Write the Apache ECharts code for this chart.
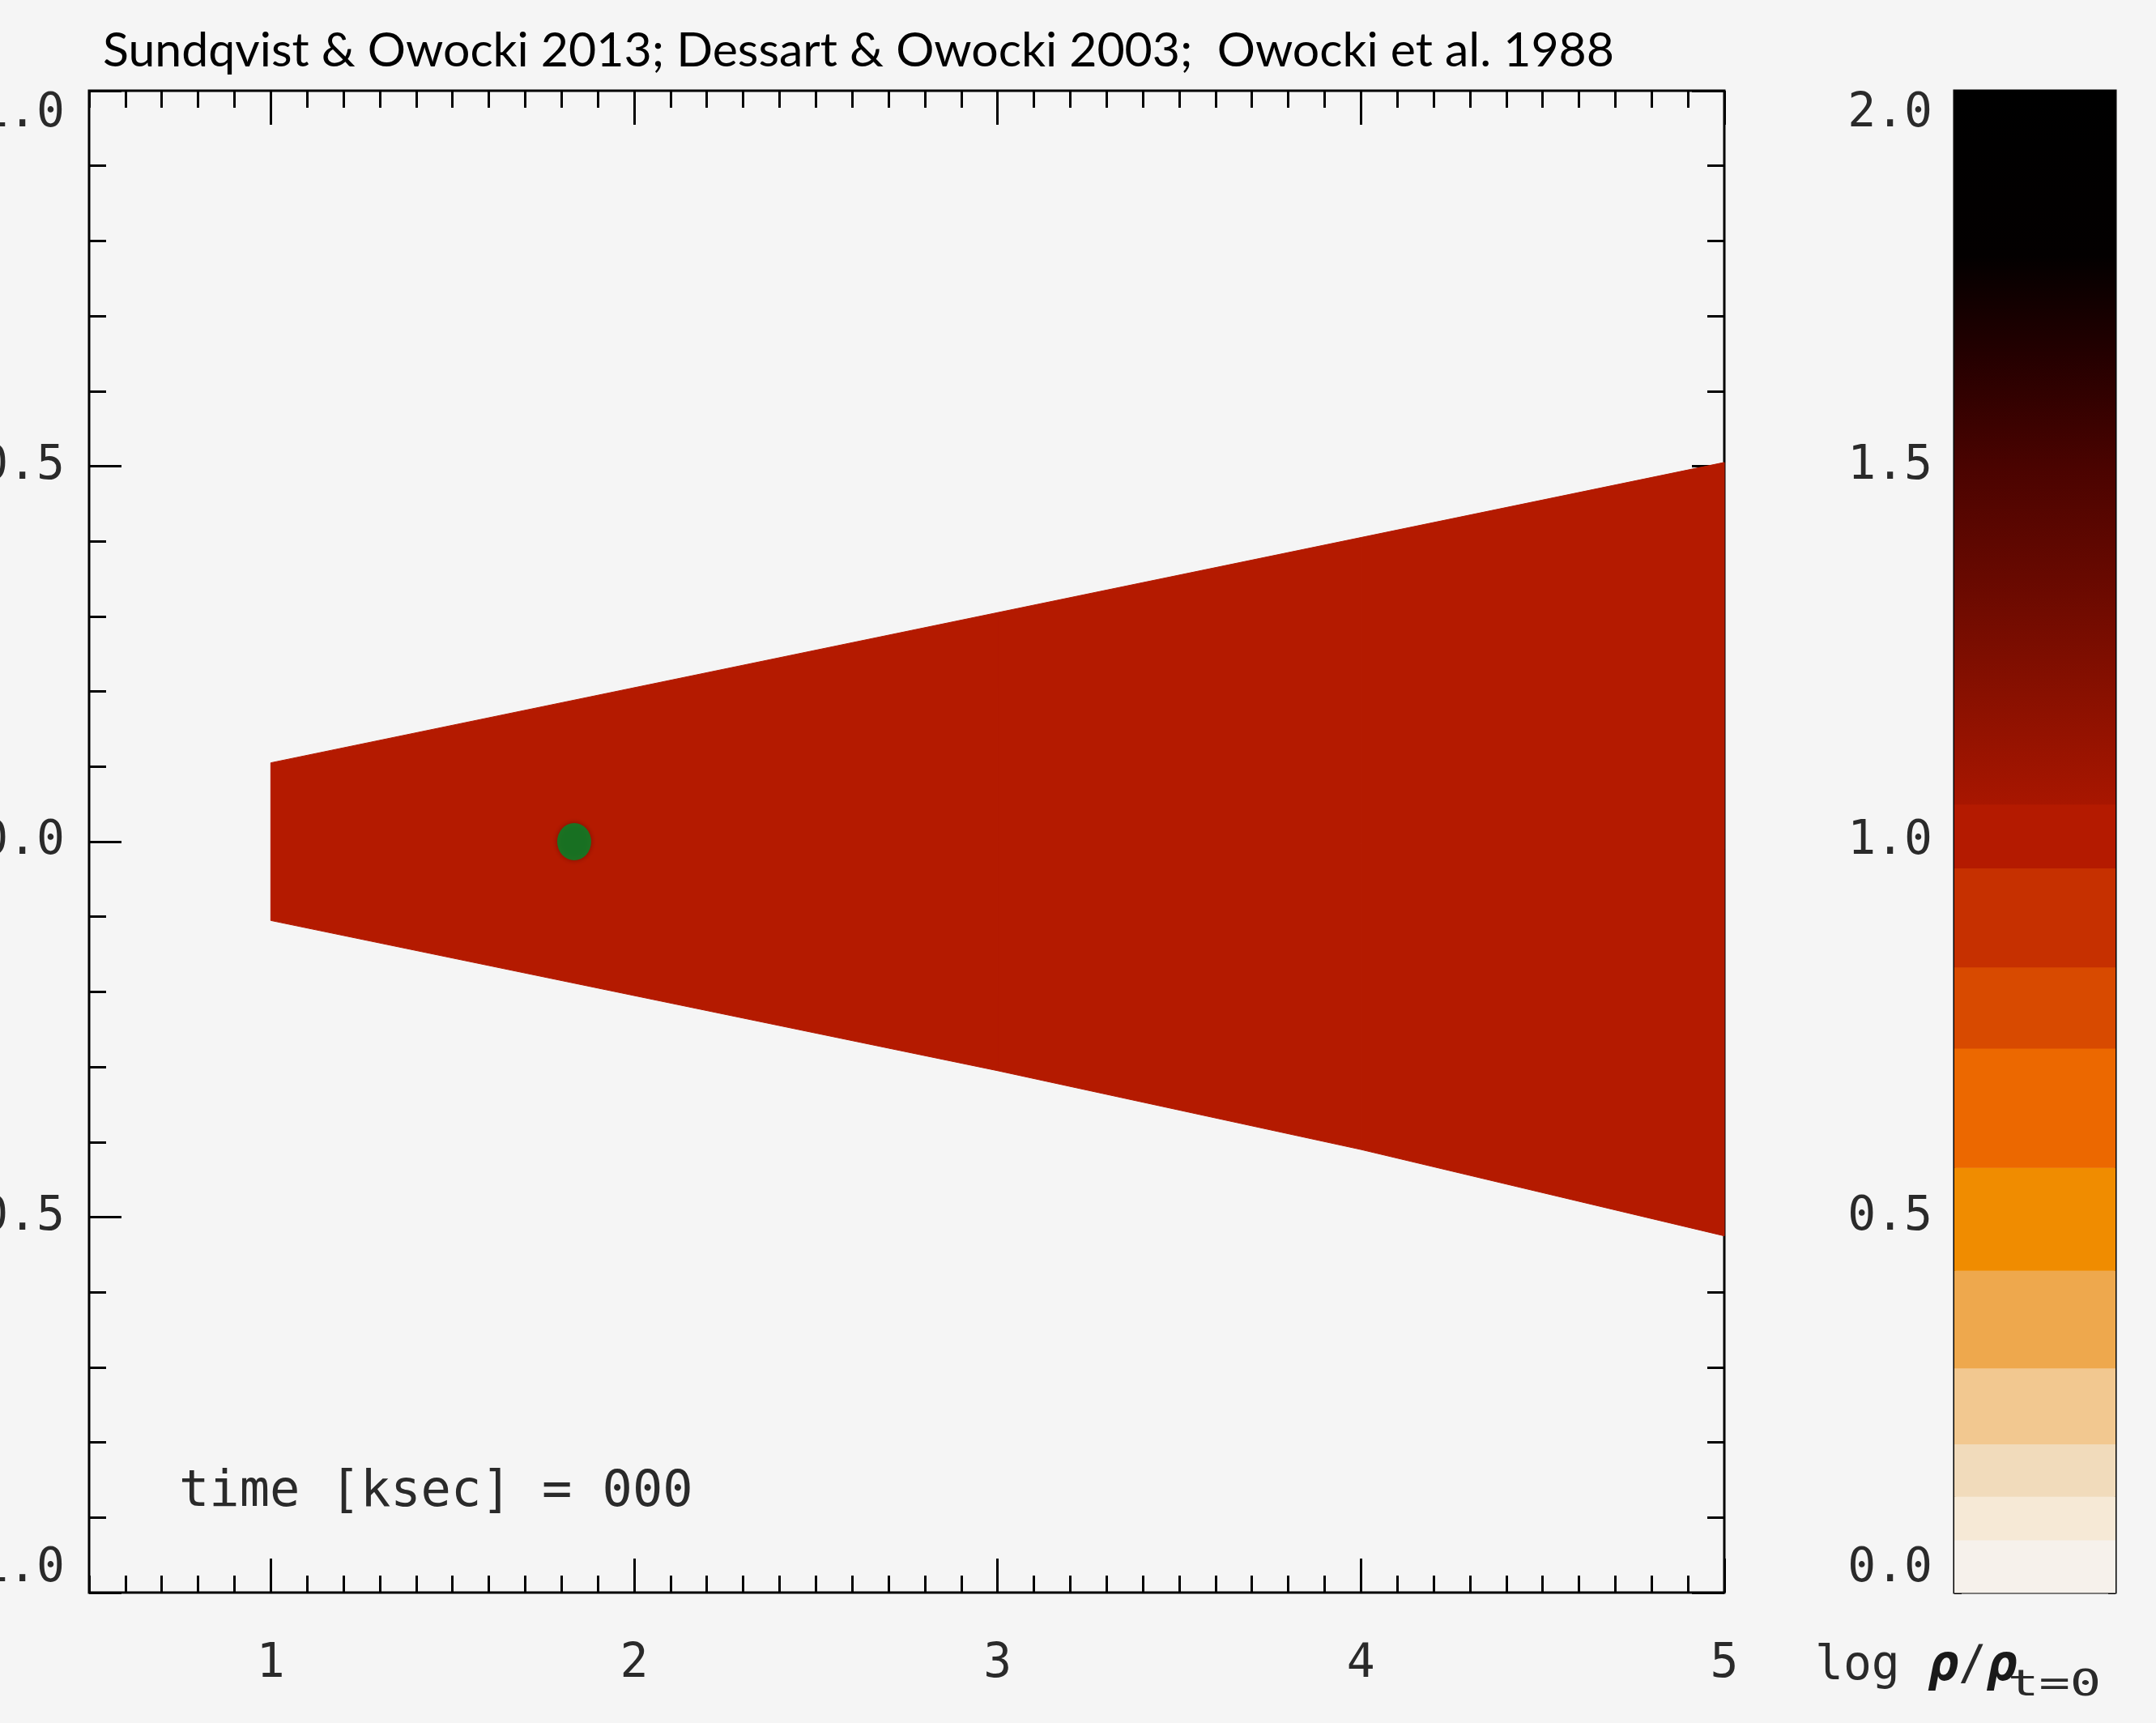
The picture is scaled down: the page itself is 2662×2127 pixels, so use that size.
<!DOCTYPE html>
<html><head><meta charset="utf-8">
<script src="https://cdn.jsdelivr.net/npm/echarts@6/dist/echarts.min.js"></script>
<style>html,body{margin:0;padding:0;background:#f5f5f5}#c{width:2662px;height:2127px}</style>
</head><body><div id="c"></div><script>
// ---- data ----
const titleText = 'Sundqvist & Owocki 2013; Dessart & Owocki 2003;  Owocki et al. 1988';
const timeLabel = 'time [ksec] = 000';
const xMajorTicks = [1, 2, 3, 4, 5];
const yMajorTicks = [-1, -0.5, 0, 0.5, 1];
const cbTickLabels = [0, 0.5, 1, 1.5, 2];
// boundary of the dense wedge (radius vs. upper/lower edge)
const radius = [1, 2, 3, 4, 5];
const upperEdge = [0.105, 0.205, 0.305, 0.405, 0.505];
const lowerEdge = [-0.105, -0.205, -0.305, -0.41, -0.525];
const wedgeLogRho = 1.0;
const markerPos = [1.835, 0];
// colour bar: discrete bands (edges in log rho / rho_t=0) ...
const cbEdges = [0, 0.07, 0.128, 0.198, 0.299, 0.429, 0.566, 0.725, 0.833, 0.965, 1.05];
const cbColors = ['#f6f1eb', '#f6e9d6', '#f1dbbb', '#f2c890', '#eea84d', '#f08c00', '#ec6800', '#d84a00', '#c63000', '#b41a00'];
// ... and the smooth upper part (value, colour)
const cbSmoothLevels = [1.05, 1.2, 1.35, 1.5, 1.65, 1.78, 2.0];
const cbSmoothColors = ['#a81600', '#881000', '#680900', '#4a0300', '#240000', '#030000', '#000000'];

function colorFor(v) {
  for (let i = 0; i < cbColors.length; i++) if (v >= cbEdges[i] && v < cbEdges[i + 1]) return cbColors[i];
  return '#000';
}

const TF = 'DejaVu Sans Mono';
const tickStyle = (len) => ({ show: true, inside: true, length: len, lineStyle: { color: '#000', width: 3 } });
const lbl = { color: '#2a2a2a', fontFamily: TF, fontSize: 58 };
const noLine = { show: false, onZero: false };

const chart = echarts.init(document.getElementById('c'), null, { renderer: 'canvas' });
chart.setOption({
  backgroundColor: '#f5f5f5',
  animation: false,
  grid: [
    { left: 110, top: 112, width: 2019, height: 1854, show: true, borderColor: '#000', borderWidth: 3, backgroundColor: 'transparent', outerBoundsMode: 'none', containLabel: false },
    { left: 2413, top: 112, width: 199, height: 1854, show: true, borderColor: '#000', borderWidth: 3, backgroundColor: 'transparent', outerBoundsMode: 'none', containLabel: false }
  ],
  xAxis: [
    { gridIndex: 0, type: 'value', position: 'bottom', min: 0.5, max: 5, interval: 0.1, axisLine: noLine, splitLine: { show: false },
      axisTick: tickStyle(21),
      axisLabel: Object.assign({ customValues: xMajorTicks, margin: 60, formatter: v => String(v) }, lbl) },
    { gridIndex: 0, type: 'value', position: 'bottom', min: 0.5, max: 5, axisLine: noLine, splitLine: { show: false },
      axisTick: Object.assign(tickStyle(42), { customValues: xMajorTicks }), axisLabel: { show: false } },
    { gridIndex: 0, type: 'value', position: 'top', min: 0.5, max: 5, interval: 0.1, axisLine: noLine, splitLine: { show: false },
      axisTick: tickStyle(21), axisLabel: { show: false } },
    { gridIndex: 0, type: 'value', position: 'top', min: 0.5, max: 5, axisLine: noLine, splitLine: { show: false },
      axisTick: Object.assign(tickStyle(42), { customValues: xMajorTicks }), axisLabel: { show: false } },
    { gridIndex: 1, type: 'value', min: 0, max: 1, show: false }
  ],
  yAxis: [
    { gridIndex: 0, type: 'value', position: 'left', min: -1, max: 1, interval: 0.1, axisLine: noLine, splitLine: { show: false },
      axisTick: tickStyle(21),
      axisLabel: Object.assign({ customValues: yMajorTicks, margin: 30, formatter: v => v.toFixed(1),
        verticalAlignMinLabel: 'bottom', verticalAlignMaxLabel: 'top' }, lbl) },
    { gridIndex: 0, type: 'value', position: 'left', min: -1, max: 1, interval: 0.5, axisLine: noLine, splitLine: { show: false },
      axisTick: tickStyle(40), axisLabel: { show: false } },
    { gridIndex: 0, type: 'value', position: 'right', min: -1, max: 1, interval: 0.1, axisLine: noLine, splitLine: { show: false },
      axisTick: tickStyle(21), axisLabel: { show: false } },
    { gridIndex: 0, type: 'value', position: 'right', min: -1, max: 1, interval: 0.5, axisLine: noLine, splitLine: { show: false },
      axisTick: tickStyle(40), axisLabel: { show: false } },
    { gridIndex: 1, type: 'value', position: 'left', min: 0, max: 2, interval: 0.1, axisLine: noLine, splitLine: { show: false },
      axisTick: tickStyle(9),
      axisLabel: Object.assign({ customValues: cbTickLabels, margin: 27, formatter: v => v.toFixed(1),
        verticalAlignMinLabel: 'bottom', verticalAlignMaxLabel: 'top' }, lbl) },
    { gridIndex: 1, type: 'value', position: 'right', min: 0, max: 2, interval: 0.1, axisLine: noLine, splitLine: { show: false },
      axisTick: tickStyle(9), axisLabel: { show: false } }
  ],
  series: [
    {
      type: 'custom', xAxisIndex: 0, yAxisIndex: 0, z: 1,
      data: radius.map((r, i) => [r, upperEdge[i], lowerEdge[i]]),
      encode: { x: 0, y: [1, 2] },
      renderItem: (params, api) => {
        const i = params.dataIndex;
        if (i >= radius.length - 1) return null;
        const col = colorFor(wedgeLogRho);
        const pts = [
          api.coord([radius[i], upperEdge[i]]), api.coord([radius[i + 1], upperEdge[i + 1]]),
          api.coord([radius[i + 1], lowerEdge[i + 1]]), api.coord([radius[i], lowerEdge[i]])
        ];
        return { type: 'polygon', shape: { points: pts }, style: { fill: col, stroke: col, lineWidth: 1 } };
      }
    },
    {
      type: 'custom', xAxisIndex: 4, yAxisIndex: 4, z: 1,
      data: cbColors.map((c, i) => [cbEdges[i], cbEdges[i + 1], i]),
      encode: { y: [0, 1] },
      renderItem: (params, api) => {
        const p1 = api.coord([0, api.value(1)]);
        const p2 = api.coord([1, api.value(0)]);
        return { type: 'rect', shape: { x: p1[0], y: p1[1], width: p2[0] - p1[0], height: p2[1] - p1[1] + 0.5 },
          style: { fill: cbColors[api.value(2)] } };
      }
    },
    {
      type: 'custom', xAxisIndex: 4, yAxisIndex: 4, z: 1,
      data: [[cbSmoothLevels[0], cbSmoothLevels[cbSmoothLevels.length - 1]]],
      encode: { y: [0, 1] },
      renderItem: (params, api) => {
        const lo = api.value(0), hi = api.value(1);
        const p1 = api.coord([0, hi]);
        const p2 = api.coord([1, lo]);
        const stops = cbSmoothLevels.map((v, i) => ({ offset: (v - lo) / (hi - lo), color: cbSmoothColors[i] }));
        return { type: 'rect', shape: { x: p1[0], y: p1[1], width: p2[0] - p1[0], height: p2[1] - p1[1] + 0.5 },
          style: { fill: new echarts.graphic.LinearGradient(0, 1, 0, 0, stops) } };
      }
    },
    {
      type: 'scatter', xAxisIndex: 0, yAxisIndex: 0, z: 5,
      data: [markerPos], symbol: 'circle', symbolSize: [42, 46],
      itemStyle: { color: '#008a2a', shadowBlur: 6, shadowColor: 'rgba(60,0,0,0.6)' }
    }
  ],
  graphic: [
    { type: 'text', x: 127, y: 63, style: { text: titleText, fill: '#000', fontFamily: 'Lato', fontSize: 59, verticalAlign: 'middle' } },
    { type: 'text', x: 221, y: 1843, style: { text: timeLabel, fill: '#2a2a2a', fontFamily: TF, fontSize: 62, verticalAlign: 'middle' } },
    { type: 'text', x: 2241, y: 2058, style: {
        text: '{a|log }{b|ρ}{a|/}{b|ρ}', verticalAlign: 'middle', fill: '#2a2a2a',
        rich: { a: { fontFamily: TF, fontSize: 58, fill: '#2a2a2a' }, b: { fontFamily: TF, fontSize: 62, fontStyle: 'italic', fontWeight: 'bold', fill: '#1a1a1a' } } } },
    { type: 'text', x: 2479, y: 2082, scaleX: 1.45, style: { text: 't=0', fill: '#2a2a2a', fontFamily: TF, fontSize: 44, verticalAlign: 'middle' } }
  ]
});
</script></body></html>
